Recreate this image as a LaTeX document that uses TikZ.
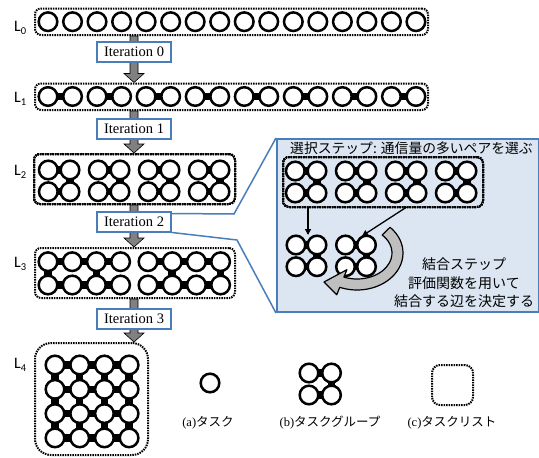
\documentclass[tikz,border=0pt]{standalone}
\usepackage{fontspec}
\newfontfamily\jpfont{Noto Sans CJK JP}
\newfontfamily\tmsfont{Liberation Serif}
\newfontfamily\calfont{Carlito}
\usetikzlibrary{arrows.meta,calc,fit}
\pgfdeclarelayer{bglayer}
\pgfdeclarelayer{bondlayer}
\pgfsetlayers{bglayer,bondlayer,main}
\definecolor{pblue}{RGB}{74,126,187}
\definecolor{pfill}{RGB}{220,230,242}
\definecolor{agray}{RGB}{128,128,128}
\definecolor{cgray}{RGB}{191,191,191}
\tikzset{
  task/.style={circle,draw=black,line width=2.5pt,fill=white,minimum size=18.6pt,inner sep=0pt},
  bond/.style={line width=7.5pt,black,line join=round},
  tlist/.style={draw=black,line width=2pt,dash pattern=on 1.5pt off 1pt,rounded corners=6pt,inner sep=0pt},
  iterbox/.style={draw=pblue,line width=2pt,fill=white,minimum width=74pt,minimum height=20pt,inner sep=0pt,font=\tmsfont\fontsize{14.5}{16}\selectfont},
  garrow/.style={draw=black,line width=0.6pt,fill=agray},
  thinarrow/.style={draw=black,line width=1.3pt,-{Triangle[length=6pt,width=6pt]}},
  carrow/.style={draw=black,line width=1.2pt,fill=cgray,line join=round},
  pointer/.style={draw=pblue,line width=1.5pt},
  panelbox/.style={draw=pblue,fill=pfill,line width=2pt,inner sep=0pt},
  llabel/.style={anchor=base west,inner sep=0pt,font=\calfont\fontsize{16}{16}\selectfont},
  jptext/.style={inner sep=0pt,font=\jpfont\fontsize{13.8}{16}\selectfont},
  legtext/.style={inner sep=0pt,font=\fontsize{12.5}{14}\selectfont}
}
\newcommand\qgroup[5]{%
  \node[task] (#1a) at (#2,#3) {};
  \node[task] (#1b) at ({#2+#4},#3) {};
  \node[task] (#1c) at (#2,{#3+#5}) {};
  \node[task] (#1d) at ({#2+#4},{#3+#5}) {};
  \begin{pgfonlayer}{bondlayer}
    \draw[bond] (#1a.center) -- (#1b.center) -- (#1d.center) -- (#1c.center);
  \end{pgfonlayer}}
\newcommand\blockarrow[2]{%
  \draw[garrow] ($(#1)+(-4,0)$) -- ($(#2)+(-4,-9)$) -- ($(#2)+(-10,-9)$) -- (#2)
    -- ($(#2)+(10,-9)$) -- ($(#2)+(4,-9)$) -- ($(#1)+(4,0)$) -- cycle;}
\newcommand\sub[1]{\raisebox{-3.5pt}{\fontsize{10.5}{10.5}\selectfont #1}}
\begin{document}
\begin{tikzpicture}[x=1pt,y=-1pt]
\useasboundingbox (0,0) rectangle (539,458);

% ---------- L0 ----------
\foreach \i in {0,...,15} \node[task] (t0-\i) at ({48+24.53*\i},21.7) {};
\node[tlist,fit={(35,8.5)(428,35)}] (L0) {};
% ---------- L1 ----------
\foreach \i in {0,...,15} \node[task] (t1-\i) at ({48+24.53*\i},96.5) {};
\begin{pgfonlayer}{bondlayer}
\foreach \i [evaluate=\i as \j using int(\i+1)] in {0,2,...,14}
  \draw[bond] (t1-\i.center) -- (t1-\j.center);
\end{pgfonlayer}
\node[tlist,fit={(35,83.5)(428,110)}] (L1) {};
% ---------- L2 ----------
\foreach \g in {0,...,3} \qgroup{l2g\g}{48.3+50*\g}{170}{21.7}{21.7}
\node[tlist,fit={(34,154)(235,204)}] (L2) {};
% ---------- L3 ----------
\foreach \g in {0,1}{
  \foreach \c in {0,...,3}{
    \node[task] (l3-\g-0-\c) at ({48+100*\g+24.2*\c},261.7) {};
    \node[task] (l3-\g-1-\c) at ({48+100*\g+24.2*\c},285) {};
  }
  \begin{pgfonlayer}{bondlayer}
    \draw[bond] (l3-\g-0-0.center) -- (l3-\g-0-3.center);
    \draw[bond] (l3-\g-1-0.center) -- (l3-\g-1-3.center);
  \end{pgfonlayer}
}
\begin{pgfonlayer}{bondlayer}
  \draw[bond] (l3-0-0-0.center) -- (l3-0-1-0.center);
  \draw[bond] (l3-0-0-2.center) -- (l3-0-1-2.center);
  \draw[bond] (l3-1-0-1.center) -- (l3-1-1-1.center);
  \draw[bond] (l3-1-0-3.center) -- (l3-1-1-3.center);
\end{pgfonlayer}
\node[tlist,fit={(35,248)(235,298)}] (L3) {};
% ---------- L4 ----------
\foreach \r in {0,...,3}{
  \foreach \c in {0,...,3}{
    \node[task] (l4-\r-\c) at ({55+24.7*\c},{365+24.3*\r}) {};
  }
}
\begin{pgfonlayer}{bondlayer}
\foreach \r in {0,...,3}{
  \draw[bond] (l4-\r-0.center) -- (l4-\r-3.center);
  \draw[bond] (l4-0-\r.center) -- (l4-3-\r.center);
}
\end{pgfonlayer}
\node[tlist,rounded corners=16pt,fit={(35,343)(148,455)}] (L4) {};

% ---------- labels ----------
\node[llabel] (lab0) at (14,31) {L\sub{0}};
\node[llabel] (lab1) at (14,102) {L\sub{1}};
\node[llabel] (lab2) at (14,175) {L\sub{2}};
\node[llabel] (lab3) at (14,267) {L\sub{3}};
\node[llabel] (lab4) at (14,368) {L\sub{4}};

% ---------- block arrows ----------
\coordinate (ax) at (134,0);
\path (ax |- L0.south) coordinate (a0t) (ax |- L1.north) coordinate (a0b)
      (ax |- L1.south) coordinate (a1t) (ax |- L2.north) coordinate (a1b)
      (ax |- L2.south) coordinate (a2t) (ax |- L3.north) coordinate (a2b)
      (ax |- L3.south) coordinate (a3t) (ax |- L4.north) coordinate (a3b);
\blockarrow{a0t}{a0b}
\blockarrow{a1t}{a1b}
\blockarrow{a2t}{a2b}
\blockarrow{a3t}{a3b}

% ---------- iteration boxes ----------
\node[iterbox] (it0) at (134,52) {Iteration 0};
\node[iterbox] (it1) at (134,128.5) {Iteration 1};
\node[iterbox] (it2) at (134,221.5) {Iteration 2};
\node[iterbox] (it3) at (134,319) {Iteration 3};

% ---------- callout panel ----------
\begin{pgfonlayer}{bglayer}
  \node[panelbox,fit={(277,139)(539,312)}] (panel) {};
\end{pgfonlayer}
\coordinate (k1) at (234,214);
\coordinate (k2) at (237,240);
\draw[pointer] ($(it2.north east)+(0,3)$) -- (k1) -- (panel.north west);
\draw[pointer] (it2.south east) -- (k2) -- (panel.south west);

\node[jptext,anchor=west] (ptitle) at (290,148) {選択ステップ: 通信量の多いペアを選ぶ};
\foreach \g in {0,...,3} \qgroup{pg\g}{295.3+50*\g}{171}{21.7}{22}
\node[tlist,fit={(283,157)(483,207)}] (PL) {};
\qgroup{ga}{296}{245}{21}{21.7}
\qgroup{gb}{345.5}{245}{21}{21.7}
\coordinate (s1) at (308,207);
\coordinate (e1) at (308,235);
\coordinate (s2) at (406.7,207);
\coordinate (e2) at (362,236);
\draw[thinarrow] (s1) -- (e1);
\draw[thinarrow] (s2) -- (e2);

\coordinate (C) at (357,253);
\coordinate (tip) at ($(C)+(-33,29)$);
\draw[carrow] ($(C)+(-44:46 and 37)$) arc[start angle=-44,end angle=112,x radius=46,y radius=37]
  -- ($(C)+(112:54 and 45)$) -- (tip) -- ($(C)+(112:27 and 18)$) -- ($(C)+(112:35 and 26)$)
  arc[start angle=112,end angle=-44,x radius=35,y radius=26] -- cycle;

\node[jptext,align=center,font=\jpfont\fontsize{14}{18.3}\selectfont] (ctext) at (464,283)
  {結合ステップ\\評価関数を用いて\\結合する辺を決定する};

% ---------- legend ----------
\node[task] (lega) at (210,383) {};
\qgroup{legb}{309}{373}{22.5}{22}
\node[tlist,rounded corners=8pt,fit={(432,365)(473,405)}] (legc) {};
\node[legtext] (ta) at (208,423) {{\tmsfont (a)}{\jpfont タスク}};
\node[legtext] (tb) at (330,423) {{\tmsfont (b)}{\jpfont タスクグループ}};
\node[legtext] (tc) at (452,423) {{\tmsfont (c)}{\jpfont タスクリスト}};
\end{tikzpicture}
\end{document}
